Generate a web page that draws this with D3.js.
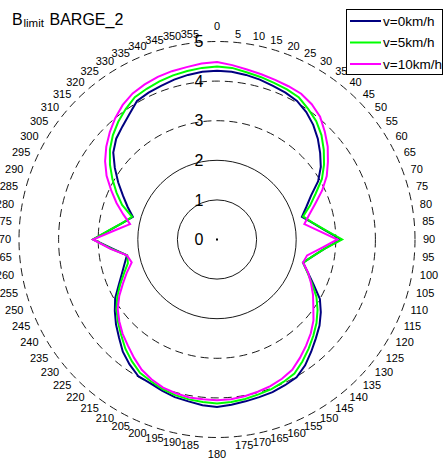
<!DOCTYPE html>
<html><head><meta charset="utf-8">
<script src="https://cdn.jsdelivr.net/npm/d3@7"></script>
<style>
html,body{margin:0;padding:0;background:#fff;}
svg{display:block;font-family:"Liberation Sans",Arial,Helvetica,sans-serif;}
</style></head>
<body>
<svg id="chart" width="444" height="460"></svg>
<script>
// ---- data ----
const angles = [0,5,10,15,20,25,30,35,40,45,50,55,60,65,70,75,80,85,90,95,100,105,110,115,120,125,130,135,140,145,150,155,160,165,170,175,180,185,190,195,200,205,210,215,220,225,230,235,240,245,250,255,260,265,270,275,280,285,290,295,300,305,310,315,320,325,330,335,340,345,350,355];
const seriesNames = ["v=0km/h","v=5km/h","v=10km/h"];
const seriesColors = ["#000080","#00ff00","#ff00ff"];
const v0 = [4.26,4.25,4.22,4.18,4.13,4.09,4.04,3.93,3.78,3.60,3.40,3.20,2.95,2.62,2.40,2.22,2.44,2.73,3.13,2.72,2.45,2.25,2.44,2.69,3.00,3.20,3.38,3.53,3.70,3.88,4.02,4.06,4.10,4.12,4.15,4.19,4.23,4.20,4.15,4.12,4.06,4.00,3.98,3.85,3.70,3.50,3.33,3.15,2.97,2.74,2.56,2.42,2.31,2.65,3.13,2.72,2.42,2.20,2.40,2.62,2.88,3.15,3.42,3.60,3.72,3.86,4.04,4.09,4.13,4.18,4.22,4.25];
const v5 = [4.37,4.35,4.29,4.25,4.21,4.18,4.14,4.02,3.90,3.73,3.52,3.30,3.06,2.75,2.50,2.25,2.45,2.75,3.16,2.72,2.45,2.25,2.43,2.65,2.90,3.10,3.28,3.44,3.60,3.76,3.91,3.97,4.02,4.05,4.09,4.12,4.14,4.12,4.10,4.07,4.02,3.95,3.89,3.75,3.60,3.42,3.26,3.10,2.91,2.70,2.50,2.33,2.30,2.68,3.13,2.73,2.42,2.22,2.55,2.80,3.05,3.30,3.53,3.72,3.88,4.02,4.15,4.20,4.25,4.29,4.32,4.35];
const v10 = [4.48,4.42,4.36,4.32,4.29,4.27,4.25,4.17,4.05,3.85,3.65,3.42,3.20,2.93,2.64,2.41,2.24,2.57,3.04,2.62,2.31,2.25,2.45,2.62,2.80,2.97,3.18,3.35,3.50,3.65,3.80,3.88,3.94,3.98,4.02,4.05,4.06,4.05,4.05,4.02,3.98,3.90,3.80,3.65,3.50,3.37,3.22,3.06,2.85,2.62,2.42,2.23,2.31,2.70,3.13,2.60,2.23,2.45,2.70,2.95,3.22,3.45,3.65,3.83,4.00,4.15,4.26,4.32,4.37,4.40,4.42,4.46];
const radialTicks = [0,1,2,3,4,5];
const solidRings = [1,2];
const dashedRings = [3,4,5];
const angleLabels = angles.map(String);
const titleMain = "B", titleSub = "limit", titleRest = "BARGE_2";

// ---- layout ----
const svg = d3.select("#chart");
const cx = 217, cy = 239.5;
const r = d3.scaleLinear().domain([0,5]).range([0,198]);
const a = d3.scaleLinear().domain([0,360]).range([0,2*Math.PI]);
const g = svg.append("g").attr("transform",`translate(${cx},${cy})`);

// rings
g.selectAll("circle.solid").data(solidRings).join("circle")
  .attr("r",d=>r(d)).attr("fill","none").attr("stroke","#000").attr("stroke-width",0.9);
g.selectAll("circle.dash").data(dashedRings).join("circle")
  .attr("r",d=>r(d)).attr("fill","none").attr("stroke","#000").attr("stroke-width",0.9)
  .attr("stroke-dasharray","8,5");

// center dot
g.append("rect").attr("x",-1).attr("y",-1).attr("width",2).attr("height",2).attr("fill","#000");

// series
const series = [v0,v5,v10];
const line = d3.lineRadial().angle((d,i)=>a(angles[i])).radius(d=>r(d)).curve(d3.curveLinearClosed);
series.forEach((s,k)=>{
  g.append("path").attr("d",line(s)).attr("fill","none")
    .attr("stroke",seriesColors[k]).attr("stroke-width",2).attr("stroke-linejoin","miter");
});

// radial labels
g.selectAll("text.rl").data(radialTicks).join("text")
  .attr("x",-18).attr("y",d=>-r(d)).attr("dy","0.36em")
  .attr("text-anchor","middle").attr("font-size",16).attr("fill","#000")
  .text(d=>d);

// angle labels
const LR = r(5)+8;
g.selectAll("text.al").data(angles).join("text")
  .attr("x",d=>LR*Math.sin(a(d)))
  .attr("y",d=>{
    let y=-LR*Math.cos(a(d));
    if(d===0) y-=4; if(d===180) y+=4;
    return y;})
  .attr("dy",d=> d===0 ? "0em" : d===180 ? "0.75em" : "0.35em")
  .attr("text-anchor",d=> (d===0||d===180)?"middle":(d<180?"start":"end"))
  .attr("font-size",11).attr("fill","#000")
  .text((d,i)=>angleLabels[i]);

// title
svg.append("text").attr("x",12).attr("y",25).attr("font-size",16).text(titleMain);
svg.append("text").attr("x",23.5).attr("y",27).attr("font-size",11.5).text(titleSub);
svg.append("text").attr("x",49.5).attr("y",25).attr("font-size",16).text(titleRest);

// legend
const lg = svg.append("g");
lg.append("rect").attr("x",346.5).attr("y",9.5).attr("width",96).attr("height",65)
  .attr("fill","#fff").attr("stroke","#000").attr("stroke-width",1);
const ly = d3.scalePoint().domain(seriesNames).range([21,64]);
seriesNames.forEach((n,k)=>{
  lg.append("line").attr("x1",350).attr("x2",381).attr("y1",ly(n)).attr("y2",ly(n))
    .attr("stroke",seriesColors[k]).attr("stroke-width",2);
  lg.append("text").attr("x",383).attr("y",ly(n)).attr("dy","0.36em")
    .attr("font-size",13.5).text(n);
});
</script>
</body></html>
